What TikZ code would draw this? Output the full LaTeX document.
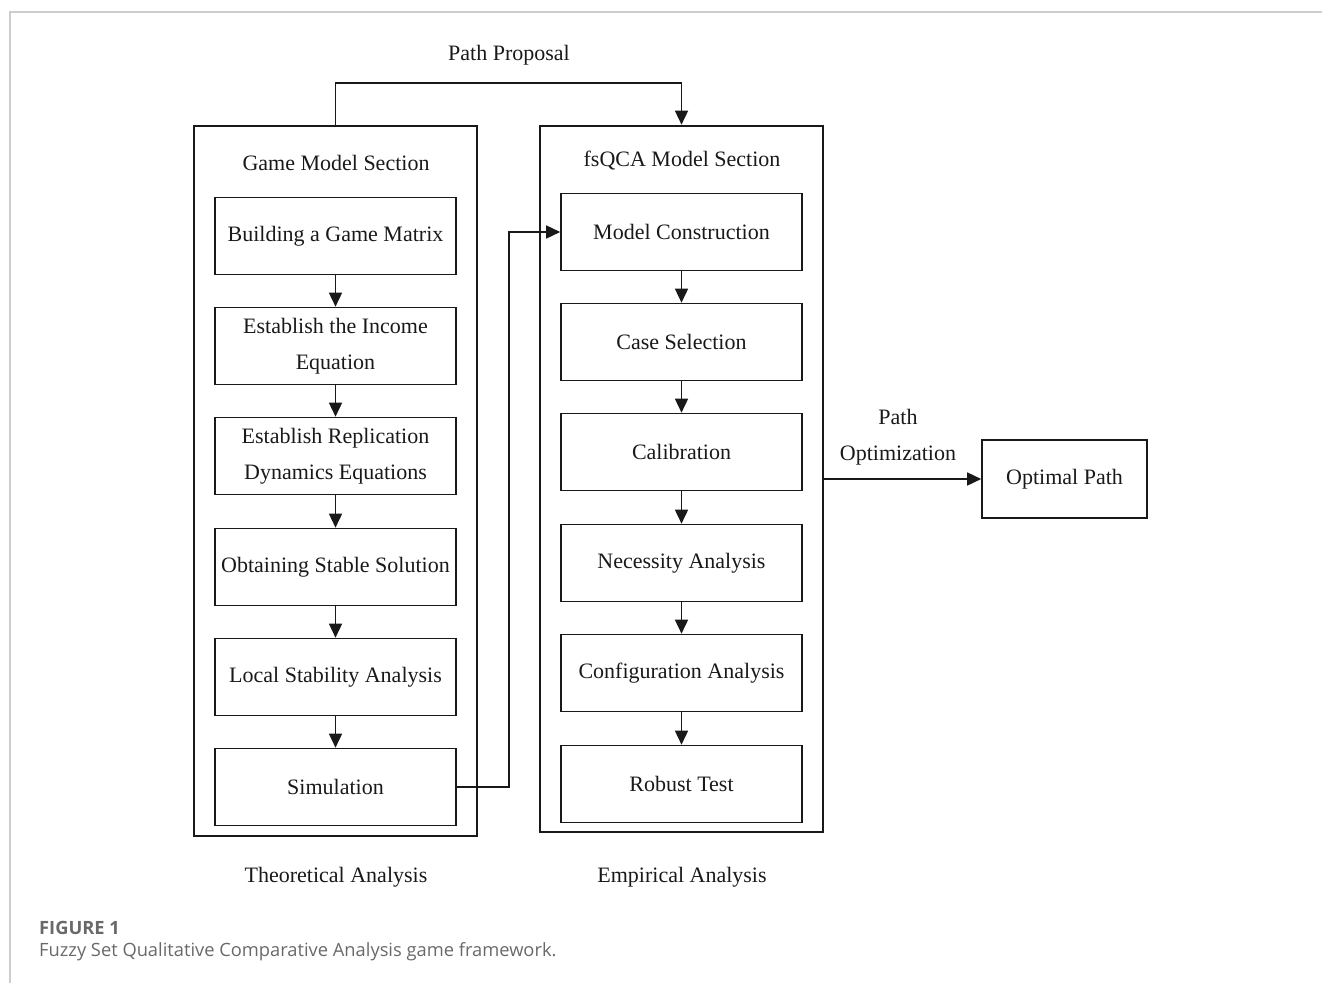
\documentclass[tikz,border=0pt]{standalone}
\usepackage{fontspec}
\setmainfont{Liberation Serif}
\newfontfamily\capfont{Open Sans}
\usetikzlibrary{arrows.meta}
\definecolor{framegray}{RGB}{205,205,205}
\definecolor{capgray}{RGB}{105,105,105}
\definecolor{ink}{RGB}{25,25,25}
\tikzset{
  stepbox/.style={draw=ink, line width=1.6pt, minimum width=241pt, minimum height=77pt, inner sep=0pt, align=center, text=ink, font=\fontsize{22}{36}\selectfont},
  bigbox/.style={draw=ink, line width=2.6pt, inner sep=0pt},
  lbl/.style={text=ink, font=\fontsize{22}{36}\selectfont, align=center, inner sep=0pt},
  conn/.style={draw=ink, line width=1.5pt, -{Triangle[length=14pt,width=13pt]}},
}
\begin{document}
\begin{tikzpicture}[x=1pt,y=-1pt]
\useasboundingbox (0,0) rectangle (1322,983);
% page frame
\draw[framegray, line width=1.3pt] (1322,12) -- (10,12) -- (10,983);
% big boxes
\node[bigbox, minimum width=283pt, minimum height=710pt] (GL) at (335.5,481) {};
\node[bigbox, minimum width=283pt, minimum height=706pt] (GR) at (681.5,479) {};
% section titles
\node[lbl] (tl) at (336,163) {Game Model Section};
\node[lbl] (tr) at (682,161) {fsQCA Model Section};
% left steps
\node[stepbox] (a1) at (335.5,236) {Building a Game Matrix};
\node[stepbox] (a2) at (335.5,346) {Establish the Income\\Equation};
\node[stepbox] (a3) at (335.5,456) {Establish Replication\\Dynamics Equations};
\node[stepbox] (a4) at (335.5,567) {Obtaining Stable Solution};
\node[stepbox] (a5) at (335.5,677) {Local Stability Analysis};
\node[stepbox] (a6) at (335.5,787) {Simulation};
% right steps
\node[stepbox] (b1) at (681.5,232) {Model Construction};
\node[stepbox] (b2) at (681.5,342) {Case Selection};
\node[stepbox] (b3) at (681.5,452) {Calibration};
\node[stepbox] (b4) at (681.5,563) {Necessity Analysis};
\node[stepbox] (b5) at (681.5,673) {Configuration Analysis};
\node[stepbox] (b6) at (681.5,784) {Robust Test};
% optimal path
\node[stepbox, minimum width=165pt, minimum height=78pt] (op) at (1064.5,479) {Optimal Path};
% vertical arrows
\foreach \u/\v in {a1/a2,a2/a3,a3/a4,a4/a5,a5/a6,b1/b2,b2/b3,b3/b4,b4/b5,b5/b6}
  \draw[conn] (\u.south) -- (\v.north);
% path proposal
\coordinate (pp1) at (335.5,83);
\coordinate (pp2) at (681.5,83);
\draw[conn] (GL.north) -- (pp1) -- (pp2) -- (GR.north);
\node[lbl] (ppl) at (509,55) {Path Proposal};
% simulation to model construction
\coordinate (s1) at (509,787);
\coordinate (s2) at (509,232);
\draw[conn] (a6.east) -- (s1) -- (s2) -- (b1.west);
% path optimization
\draw[conn] (GR.east |- op.west) -- (op.west);
\node[lbl] (pol) at (898,437) {Path\\Optimization};
% bottom labels
\node[lbl] (ta) at (336,877) {Theoretical Analysis};
\node[lbl] (ea) at (682,877) {Empirical Analysis};
% caption
\node[anchor=west, inner sep=0pt, text=capgray, font=\capfont\fontsize{18.3}{20}\selectfont\bfseries] (fig) at (39,928) {FIGURE 1};
\node[anchor=west, inner sep=0pt, text=capgray, font=\capfont\fontsize{18.3}{20}\selectfont] (cap) at (39,952) {Fuzzy Set Qualitative Comparative Analysis game framework.};
\end{tikzpicture}
\end{document}
